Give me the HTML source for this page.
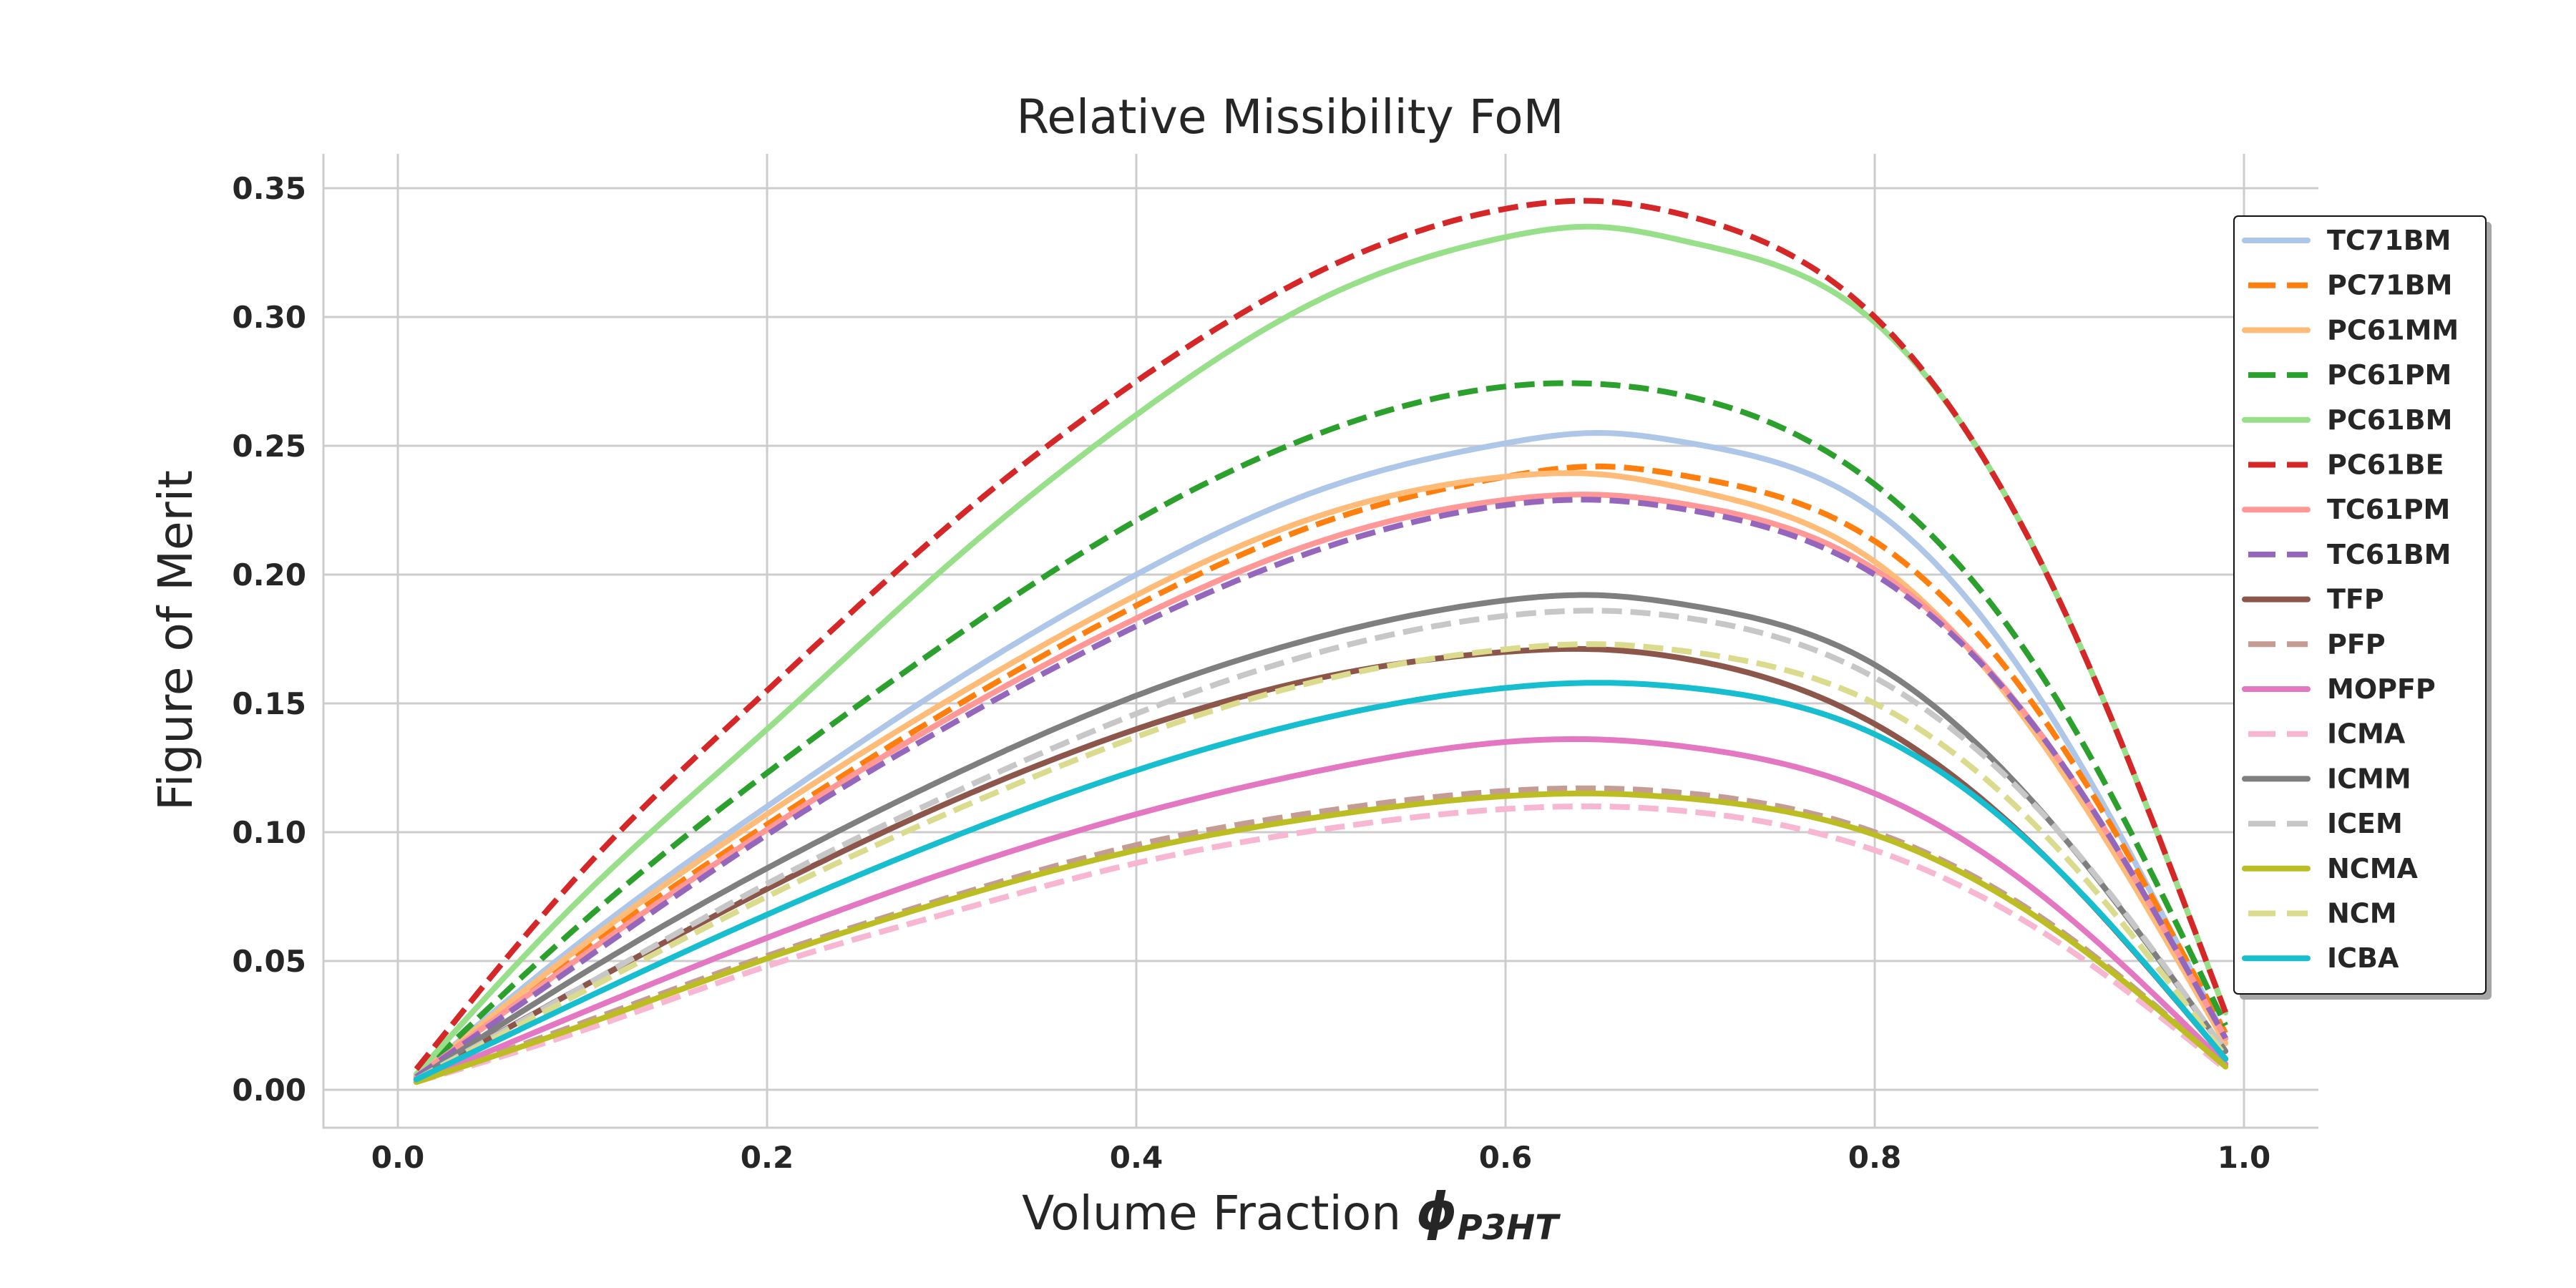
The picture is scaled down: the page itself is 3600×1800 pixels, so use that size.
<!DOCTYPE html>
<html><head><meta charset="utf-8"><style>
html,body{margin:0;padding:0;background:#fff;}
svg{display:block;font-family:"DejaVu Sans","Liberation Sans",sans-serif;}
</style></head><body>
<svg id="chart" width="3600" height="1800" viewBox="0 0 3600 1800">
<rect width="3600" height="1800" fill="#fff"/>
<g id="grid"></g>
<g id="series"></g>
<g id="axes"></g>
<text x="1803" y="186" text-anchor="middle" font-size="66" fill="#262626">Relative Missibility FoM</text>
<text transform="translate(268,895) rotate(-90)" text-anchor="middle" font-size="66" fill="#262626">Figure of Merit</text>
<text x="1803" y="1718" text-anchor="middle" font-size="66" fill="#262626">Volume Fraction <tspan font-weight="bold" font-style="italic" font-size="72">ϕ</tspan><tspan font-weight="bold" font-style="italic" font-size="48" dy="14">P3HT</tspan></text>
<g id="legend"></g>
</svg>
<script>
const xs = [0.01,0.1,0.2,0.3,0.4,0.5,0.6,0.65,0.7,0.8,0.9,0.99];
const names = ["TC71BM","PC71BM","PC61MM","PC61PM","PC61BM","PC61BE","TC61PM","TC61BM","TFP","PFP","MOPFP","ICMA","ICMM","ICEM","NCMA","NCM","ICBA"];
const colors = ["#aec7e8","#ff7f0e","#ffbb78","#2ca02c","#98df8a","#d62728","#ff9896","#9467bd","#8c564b","#c49c94","#e377c2","#f7b6d2","#7f7f7f","#c7c7c7","#bcbd22","#dbdb8d","#17becf"];
const dashed = [false,true,false,true,false,true,false,true,false,true,false,true,false,true,false,true,false];
const TC71BM = [0.005,0.058,0.110,0.158,0.200,0.233,0.251,0.255,0.251,0.225,0.140,0.020];
const PC71BM = [0.005,0.054,0.103,0.148,0.188,0.220,0.238,0.242,0.238,0.213,0.135,0.022];
const PC61MM = [0.005,0.056,0.107,0.152,0.192,0.223,0.238,0.239,0.233,0.205,0.125,0.018];
const PC61PM = [0.005,0.065,0.123,0.175,0.221,0.255,0.273,0.274,0.269,0.235,0.150,0.025];
const PC61BM = [0.006,0.075,0.140,0.205,0.262,0.307,0.331,0.335,0.329,0.298,0.190,0.030];
const PC61BE = [0.008,0.085,0.155,0.220,0.275,0.318,0.342,0.345,0.339,0.300,0.190,0.030];
const TC61PM = [0.005,0.052,0.101,0.145,0.183,0.213,0.229,0.231,0.227,0.202,0.128,0.020];
const TC61BM = [0.005,0.050,0.099,0.142,0.180,0.210,0.227,0.229,0.225,0.200,0.128,0.020];
const TFP = [0.004,0.040,0.078,0.112,0.140,0.160,0.170,0.171,0.167,0.142,0.085,0.012];
const PFP = [0.003,0.026,0.052,0.075,0.095,0.108,0.116,0.117,0.115,0.100,0.062,0.009];
const MOPFP = [0.003,0.030,0.059,0.085,0.107,0.124,0.135,0.136,0.133,0.115,0.070,0.010];
const ICMA = [0.003,0.023,0.048,0.069,0.088,0.101,0.109,0.110,0.108,0.093,0.057,0.008];
const ICMM = [0.004,0.045,0.086,0.122,0.153,0.176,0.190,0.192,0.188,0.165,0.100,0.015];
const ICEM = [0.004,0.040,0.080,0.115,0.146,0.170,0.184,0.186,0.183,0.160,0.100,0.015];
const NCMA = [0.003,0.025,0.051,0.074,0.093,0.106,0.114,0.115,0.113,0.099,0.061,0.009];
const NCM = [0.004,0.038,0.075,0.108,0.137,0.159,0.171,0.173,0.170,0.150,0.093,0.013];
const ICBA = [0.004,0.035,0.068,0.098,0.124,0.144,0.156,0.158,0.156,0.138,0.085,0.012];
const values = [TC71BM,PC71BM,PC61MM,PC61PM,PC61BM,PC61BE,TC61PM,TC61BM,TFP,PFP,MOPFP,ICMA,ICMM,ICEM,NCMA,NCM,ICBA];
const xTicks = [0.0,0.2,0.4,0.6,0.8,1.0];
const xTickLabels = ["0.0","0.2","0.4","0.6","0.8","1.0"];
const yTicks = [0,0.05,0.1,0.15,0.2,0.25,0.3,0.35];
const yTickLabels = ["0.00","0.05","0.10","0.15","0.20","0.25","0.30","0.35"];

const NS="http://www.w3.org/2000/svg";
const L=452,R=3240,T=215,B=1576;
const X0=556,X1=3136,Y0=1523,Y35=263;
const sx=v=>X0+(X1-X0)*v;
const sy=v=>Y0+(Y35-Y0)*v/0.35;
function mk(tag,attrs,parent){const e=document.createElementNS(NS,tag);for(const k in attrs)e.setAttribute(k,attrs[k]);parent.appendChild(e);return e;}
const grid=document.getElementById('grid'),axes=document.getElementById('axes'),ser=document.getElementById('series'),leg=document.getElementById('legend');
xTicks.forEach((t,i)=>{
  const g=mk('line',{x1:sx(t),x2:sx(t),y1:T,y2:B,stroke:'#cccccc','stroke-width':3},grid);
  
  
  const tx=mk('text',{x:sx(t),y:1632,'text-anchor':'middle','font-size':42,'font-weight':'bold',fill:'#262626'},axes);
  tx.textContent=xTickLabels[i];
  
  
});
yTicks.forEach((t,i)=>{
  const g=mk('line',{x1:L,x2:R,y1:sy(t),y2:sy(t),stroke:'#cccccc','stroke-width':3},grid);
  
  
  const tx=mk('text',{x:428,y:sy(t)+15,'text-anchor':'end','font-size':42,'font-weight':'bold',fill:'#262626'},axes);
  tx.textContent=yTickLabels[i];
  
  
});
const ls=mk('line',{x1:L,x2:L,y1:T,y2:B+1.5,stroke:'#cccccc','stroke-width':3},axes);


const bs=mk('line',{x1:L-1.5,x2:R,y1:B,y2:B,stroke:'#cccccc','stroke-width':3},axes);



function spline(xv,yv){
  const n=xv.length,h=[],al=[],l=[1],mu=[0],z=[0],c=new Array(n).fill(0),b=[],d=[];
  for(let i=0;i<n-1;i++)h.push(xv[i+1]-xv[i]);
  for(let i=1;i<n-1;i++)al[i]=3/h[i]*(yv[i+1]-yv[i])-3/h[i-1]*(yv[i]-yv[i-1]);
  for(let i=1;i<n-1;i++){l[i]=2*(xv[i+1]-xv[i-1])-h[i-1]*mu[i-1];mu[i]=h[i]/l[i];z[i]=(al[i]-h[i-1]*z[i-1])/l[i];}
  for(let j=n-2;j>=0;j--){c[j]=(j>0?z[j]-mu[j]*c[j+1]:0);b[j]=(yv[j+1]-yv[j])/h[j]-h[j]*(c[j+1]+2*c[j])/3;d[j]=(c[j+1]-c[j])/(3*h[j]);}
  return x=>{let i=0;while(i<n-2&&x>xv[i+1])i++;const t=x-xv[i];return yv[i]+b[i]*t+c[i]*t*t+d[i]*t*t*t;};
}
function pathFor(arr){
  const f=spline(xs,arr);let d='';
  const a=xs[0],bb=xs[xs.length-1];
  for(let k=0;k<=300;k++){const x=a+(bb-a)*k/300;d+=(k?'L':'M')+sx(x).toFixed(1)+','+sy(f(x)).toFixed(1);}
  return d;
}
values.forEach((arr,i)=>{
  const p=mk('path',{d:pathFor(arr),fill:'none',stroke:colors[i],'stroke-width':8,'stroke-linecap':dashed[i]?'butt':'round','stroke-linejoin':'round'},ser);
  if(dashed[i])p.setAttribute('stroke-dasharray','28 12');
  
  
});
const lx=3122,ly=302,lw=352,lh=1087;
const sh=mk('rect',{x:lx+8,y:ly+8,width:lw,height:lh,rx:6,fill:'#a6a6a6'},leg);


const fr=mk('rect',{x:lx,y:ly,width:lw,height:lh,rx:6,fill:'#fff',stroke:'#111','stroke-width':2},leg);


names.forEach((n,i)=>{
  const y=ly+34+i*62.7;
  const ln=mk('line',{x1:lx+15,x2:lx+103,y1:y,y2:y,stroke:colors[i],'stroke-width':8,'stroke-linecap':dashed[i]?'butt':'round'},leg);
  if(dashed[i]){ln.setAttribute('x1',lx+20);ln.setAttribute('stroke-dasharray','38 16');}
  
  
  const t=mk('text',{x:lx+130,y:y+13,'font-size':38,'font-weight':'bold',fill:'#262626'},leg);
  t.textContent=n;
  
  
});
</script>
</body></html>
